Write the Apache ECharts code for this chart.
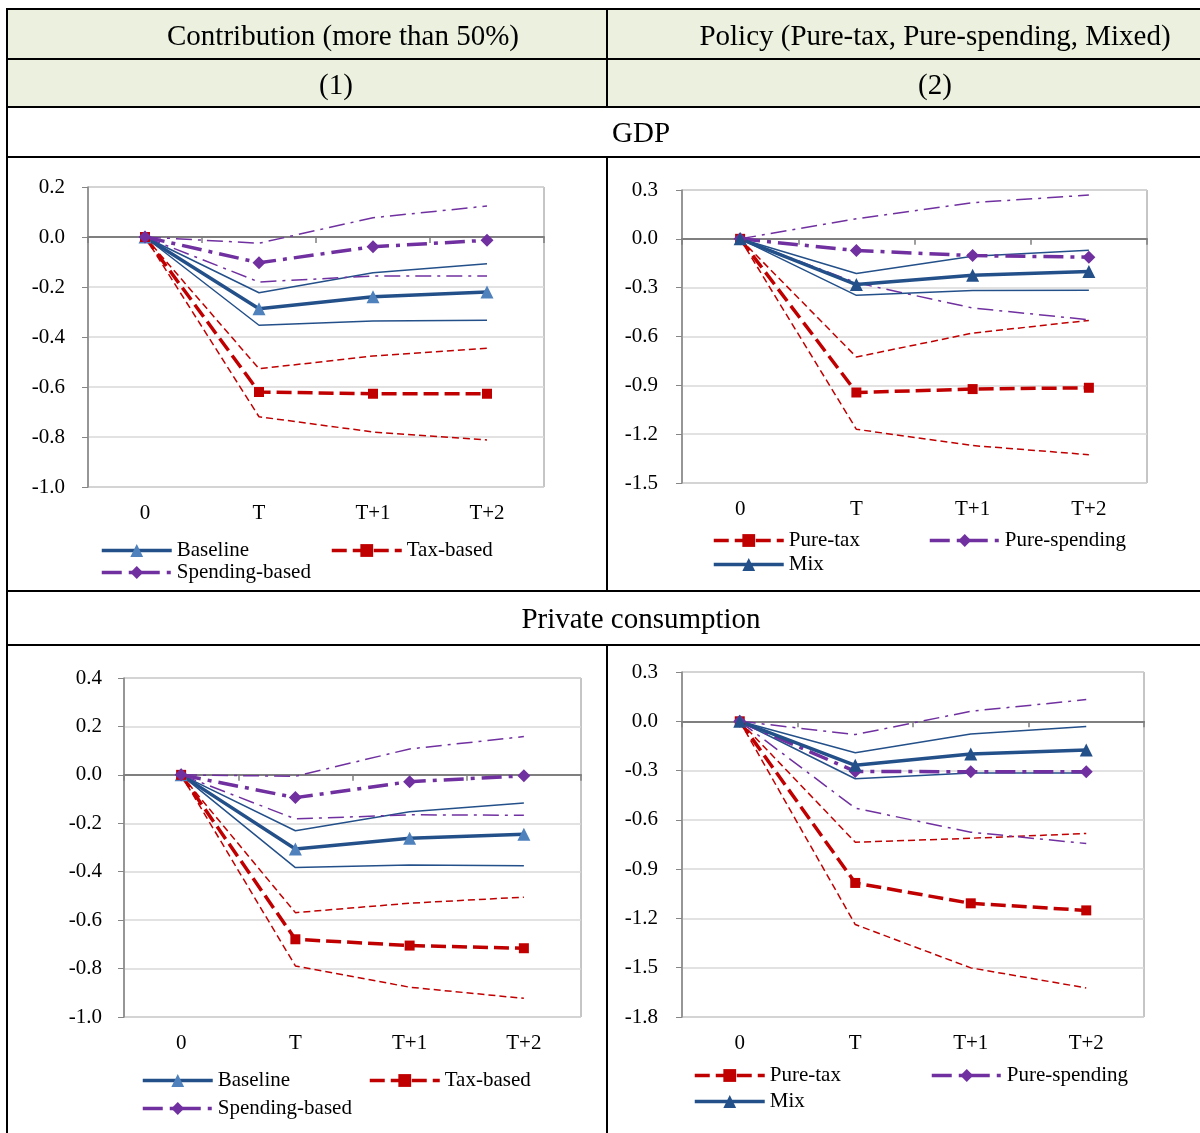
<!DOCTYPE html>
<html>
<head>
<meta charset="utf-8">
<script src="https://cdn.jsdelivr.net/npm/echarts@6.0.0/dist/echarts.min.js"></script>
<style>
html,body{margin:0;padding:0;background:#fff;}
#c{width:1200px;height:1133px;}
</style>
</head>
<body>
<div id="c"></div>
<script>
// ---------- DATA ----------
const categories = ['0', 'T', 'T+1', 'T+2'];

// GDP – contribution
const gdpBaseline   = [0, -0.287, -0.239, -0.220];
const gdpBaselineUp = [0, -0.223, -0.143, -0.107];
const gdpBaselineLo = [0, -0.353, -0.336, -0.333];
const gdpTax        = [0, -0.620, -0.627, -0.627];
const gdpTaxUp      = [0, -0.527, -0.476, -0.445];
const gdpTaxLo      = [0, -0.719, -0.780, -0.812];
const gdpSpend      = [0, -0.103, -0.039, -0.013];
const gdpSpendUp    = [0, -0.025, 0.077, 0.124];
const gdpSpendLo    = [0, -0.180, -0.156, -0.156];

// GDP – policy
const gdpPureTax     = [0, -0.944, -0.923, -0.915];
const gdpPureTaxUp   = [0, -0.726, -0.579, -0.501];
const gdpPureTaxLo   = [0, -1.170, -1.270, -1.326];
const gdpPureSpend   = [0, -0.072, -0.103, -0.113];
const gdpPureSpendUp = [0, 0.123, 0.222, 0.269];
const gdpPureSpendLo = [0, -0.270, -0.425, -0.497];
const gdpMix         = [0, -0.281, -0.224, -0.201];
const gdpMixUp       = [0, -0.213, -0.107, -0.070];
const gdpMixLo       = [0, -0.347, -0.318, -0.316];

// Private consumption – contribution
const pcBaseline   = [0, -0.306, -0.262, -0.245];
const pcBaselineUp = [0, -0.231, -0.152, -0.116];
const pcBaselineLo = [0, -0.383, -0.372, -0.375];
const pcTax        = [0, -0.679, -0.705, -0.716];
const pcTaxUp      = [0, -0.569, -0.530, -0.505];
const pcTaxLo      = [0, -0.789, -0.877, -0.923];
const pcSpend      = [0, -0.094, -0.028, -0.004];
const pcSpendUp    = [0, -0.006, 0.107, 0.158];
const pcSpendLo    = [0, -0.182, -0.165, -0.167];

// Private consumption – policy
const pcPureTax     = [0, -0.984, -1.108, -1.151];
const pcPureTaxUp   = [0, -0.736, -0.712, -0.683];
const pcPureTaxLo   = [0, -1.237, -1.501, -1.623];
const pcPureSpend   = [0, -0.305, -0.307, -0.307];
const pcPureSpendUp = [0, -0.081, 0.061, 0.132];
const pcPureSpendLo = [0, -0.529, -0.675, -0.744];
const pcMix         = [0, -0.268, -0.199, -0.175];
const pcMixUp       = [0, -0.191, -0.077, -0.031];
const pcMixLo       = [0, -0.350, -0.315, -0.315];

// Axis ranges
const axisGdpContrib = {min: -1.0, max: 0.2, interval: 0.2};
const axisGdpPolicy  = {min: -1.5, max: 0.3, interval: 0.3};
const axisPcContrib  = {min: -1.0, max: 0.4, interval: 0.2};
const axisPcPolicy   = {min: -1.8, max: 0.3, interval: 0.3};

// Table texts
const headerCol1 = 'Contribution (more than 50%)';
const headerCol2 = 'Policy (Pure-tax, Pure-spending, Mixed)';
const colNum1 = '(1)';
const colNum2 = '(2)';
const rowTitle1 = 'GDP';
const rowTitle2 = 'Private consumption';

// ---------- STYLE ----------
const FONT = '"Liberation Serif","Times New Roman",serif';
const BLUE = '#24508A', LIGHTBLUE = '#4F81BD', RED = '#C00000', PURPLE = '#7030A0';

const kinds = {
  blue:   {color: BLUE,   type: 'solid',       symbol: 'triangle', size: 13},
  red:    {color: RED,    type: [15, 6],       symbol: 'rect',     size: 10},
  purple: {color: PURPLE, type: [20, 7, 4, 7], symbol: 'diamond',  size: 13}
};
const bandTypes = {blue: 'solid', red: [7, 4], purple: [16, 6, 3, 6]};

const panels = [
  { grid: {left: 88, top: 187, width: 456, height: 300}, axis: axisGdpContrib, yMargin: 23,
    main: [
      {name: 'Baseline', data: gdpBaseline, kind: 'blue', marker: LIGHTBLUE},
      {name: 'Tax-based', data: gdpTax, kind: 'red'},
      {name: 'Spending-based', data: gdpSpend, kind: 'purple'}
    ],
    bands: [
      {data: gdpBaselineUp, kind: 'blue'}, {data: gdpBaselineLo, kind: 'blue'},
      {data: gdpTaxUp, kind: 'red'}, {data: gdpTaxLo, kind: 'red'},
      {data: gdpSpendUp, kind: 'purple'}, {data: gdpSpendLo, kind: 'purple'}
    ],
    legends: [
      {name: 'Baseline', left: 100, cy: 548},
      {name: 'Tax-based', left: 330, cy: 548},
      {name: 'Spending-based', left: 100, cy: 570}
    ]
  },
  { grid: {left: 682, top: 190, width: 465, height: 293}, axis: axisGdpPolicy, yMargin: 24,
    main: [
      {name: 'Pure-tax', data: gdpPureTax, kind: 'red'},
      {name: 'Pure-spending', data: gdpPureSpend, kind: 'purple'},
      {name: 'Mix', data: gdpMix, kind: 'blue', marker: BLUE}
    ],
    bands: [
      {data: gdpPureTaxUp, kind: 'red'}, {data: gdpPureTaxLo, kind: 'red'},
      {data: gdpPureSpendUp, kind: 'purple'}, {data: gdpPureSpendLo, kind: 'purple'},
      {data: gdpMixUp, kind: 'blue'}, {data: gdpMixLo, kind: 'blue'}
    ],
    legends: [
      {name: 'Pure-tax', left: 712, cy: 538},
      {name: 'Pure-spending', left: 928, cy: 538},
      {name: 'Mix', left: 712, cy: 562}
    ]
  },
  { grid: {left: 124, top: 678, width: 457, height: 339}, axis: axisPcContrib, yMargin: 22,
    main: [
      {name: 'Baseline', data: pcBaseline, kind: 'blue', marker: LIGHTBLUE},
      {name: 'Tax-based', data: pcTax, kind: 'red'},
      {name: 'Spending-based', data: pcSpend, kind: 'purple'}
    ],
    bands: [
      {data: pcBaselineUp, kind: 'blue'}, {data: pcBaselineLo, kind: 'blue'},
      {data: pcTaxUp, kind: 'red'}, {data: pcTaxLo, kind: 'red'},
      {data: pcSpendUp, kind: 'purple'}, {data: pcSpendLo, kind: 'purple'}
    ],
    legends: [
      {name: 'Baseline', left: 141, cy: 1078},
      {name: 'Tax-based', left: 368, cy: 1078},
      {name: 'Spending-based', left: 141, cy: 1106}
    ]
  },
  { grid: {left: 682, top: 672, width: 462, height: 345}, axis: axisPcPolicy, yMargin: 24,
    main: [
      {name: 'Pure-tax', data: pcPureTax, kind: 'red'},
      {name: 'Pure-spending', data: pcPureSpend, kind: 'purple'},
      {name: 'Mix', data: pcMix, kind: 'blue', marker: BLUE}
    ],
    bands: [
      {data: pcPureTaxUp, kind: 'red'}, {data: pcPureTaxLo, kind: 'red'},
      {data: pcPureSpendUp, kind: 'purple'}, {data: pcPureSpendLo, kind: 'purple'},
      {data: pcMixUp, kind: 'blue'}, {data: pcMixLo, kind: 'blue'}
    ],
    legends: [
      {name: 'Pure-tax', left: 693, cy: 1073},
      {name: 'Pure-spending', left: 930, cy: 1073},
      {name: 'Mix', left: 693, cy: 1099}
    ]
  }
];

// ---------- BUILD OPTION ----------
const grids = [], xAxes = [], yAxes = [], series = [], legends = [];
const fmt = v => (Math.abs(v) < 1e-9 ? 0 : v).toFixed(1);

panels.forEach((p, i) => {
  grids.push(Object.assign({show: true, borderColor: '#8C8C8C', borderWidth: 1,
    backgroundColor: 'transparent', containLabel: false, outerBoundsMode: 'none'}, p.grid));
  // label axis (bottom)
  xAxes.push({gridIndex: i, type: 'category', data: categories, position: 'bottom',
    boundaryGap: true,
    axisLine: {show: false, onZero: false}, axisTick: {show: false}, splitLine: {show: false},
    axisLabel: {fontFamily: FONT, fontSize: 21, color: '#000', margin: 16}});
  // zero line axis
  xAxes.push({gridIndex: i, type: 'category', data: categories, position: 'bottom',
    boundaryGap: true,
    axisLine: {show: true, onZero: true, lineStyle: {color: '#7F7F7F', width: 2}},
    axisTick: {show: true, length: 6, inside: false, lineStyle: {color: '#7F7F7F', width: 1.5}},
    axisLabel: {show: false}, splitLine: {show: false}});
  yAxes.push({gridIndex: i, type: 'value', min: p.axis.min, max: p.axis.max, interval: p.axis.interval,
    axisLine: {show: true, onZero: false, lineStyle: {color: '#868686', width: 1.5}},
    axisTick: {show: true, length: 6, lineStyle: {color: '#868686'}},
    splitLine: {show: true, lineStyle: {color: '#D9D9D9', width: 1.5}},
    axisLabel: {fontFamily: FONT, fontSize: 21, color: '#000', margin: p.yMargin, formatter: fmt}});

  p.bands.forEach((b, j) => {
    const k = kinds[b.kind];
    series.push({type: 'line', name: 'band-' + i + '-' + j, xAxisIndex: 2 * i, yAxisIndex: i,
      data: b.data, symbol: 'none', silent: true, z: 2, animation: false,
      lineStyle: {color: k.color, width: 1.5, type: bandTypes[b.kind]}});
  });
  p.main.forEach(m => {
    const k = kinds[m.kind];
    series.push({type: 'line', name: m.name, xAxisIndex: 2 * i, yAxisIndex: i,
      data: m.data, symbol: k.symbol, symbolSize: k.size, showSymbol: true, z: 3, animation: false,
      lineStyle: {color: k.color, width: 3.5, type: k.type},
      itemStyle: {color: m.marker || k.color, borderWidth: 0}});
  });
  p.legends.forEach(l => {
    legends.push({data: [l.name], left: l.left, top: l.cy - 8, padding: 0,
      itemWidth: 70, itemHeight: 16, selectedMode: false, orient: 'horizontal',
      lineStyle: {width: 3.5},
      textStyle: {fontFamily: FONT, fontSize: 21, color: '#000', padding: [0, 0, 0, 0]}});
  });
});

// ---------- TABLE GRAPHICS ----------
const LINE = {stroke: '#000', lineWidth: 2};
const hLine = (y, x1, x2) => ({type: 'line', shape: {x1: x1, y1: y, x2: x2, y2: y}, style: LINE, z: 100});
const vLine = (x, y1, y2) => ({type: 'line', shape: {x1: x, y1: y1, x2: x, y2: y2}, style: LINE, z: 100});
const txt = (t, x, y) => ({type: 'text', x: x, y: y, z: 101,
  style: {text: t, font: '29px ' + FONT, fill: '#000', align: 'center', verticalAlign: 'middle'}});

const graphics = [
  {type: 'rect', shape: {x: 7, y: 9, width: 1200, height: 98}, style: {fill: '#EBF1DE'}, z: 90},
  hLine(9, 7, 1200), hLine(59, 7, 1200), hLine(107, 7, 1200), hLine(157, 7, 1200),
  hLine(591, 7, 1200), hLine(645, 7, 1200),
  vLine(7, 8, 1133),
  vLine(607, 9, 107), vLine(607, 157, 591), vLine(607, 645, 1133),
  txt(headerCol1, 343, 37), txt(headerCol2, 935, 37),
  txt(colNum1, 336, 86), txt(colNum2, 935, 86),
  txt(rowTitle1, 641, 134), txt(rowTitle2, 641, 620)
];

const chart = echarts.init(document.getElementById('c'), null, {renderer: 'canvas'});
chart.setOption({
  animation: false,
  backgroundColor: '#fff',
  grid: grids, xAxis: xAxes, yAxis: yAxes, series: series, legend: legends,
  graphic: {elements: graphics}
});
</script>
</body>
</html>
